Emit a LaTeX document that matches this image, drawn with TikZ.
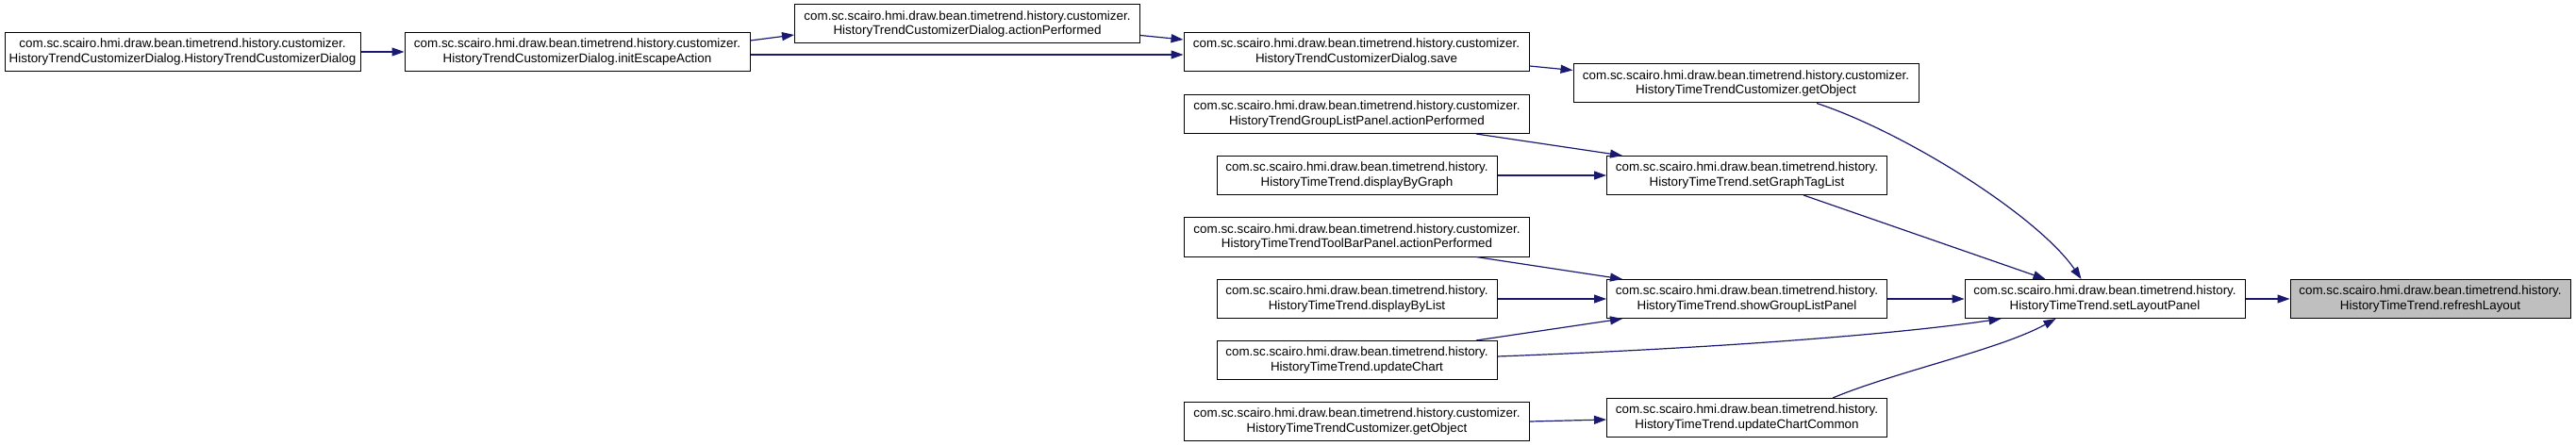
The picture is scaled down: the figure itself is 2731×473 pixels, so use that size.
\documentclass[tikz,border=0pt]{standalone}
\usepackage{fontspec}
\setmainfont{Liberation Sans}
\usetikzlibrary{arrows.meta}
\definecolor{edgecol}{HTML}{191970}
\definecolor{hilite}{HTML}{BFBFBF}
\begin{document}
\begin{tikzpicture}[x=1pt,y=-1pt,
  fn/.style={draw=black,line width=1pt,fill=white,align=center,inner sep=0pt,
    minimum height=41pt,font=\fontsize{13.4}{15.2}\selectfont},
  wide/.style={fn,minimum width=366pt},
  narrow/.style={fn,minimum width=297pt},
  call/.style={draw=edgecol,line width=1.2pt,-{Triangle[length=13pt,width=9pt]},fill=none},
]
\useasboundingbox (0,0) rectangle (2731,473);
\node[fn,minimum width=377pt] (A) at (193.5,55) {com.sc.scairo.hmi.draw.bean.timetrend.history.customizer.\\HistoryTrendCustomizerDialog.HistoryTrendCustomizerDialog};
\node[wide] (B) at (612,55) {com.sc.scairo.hmi.draw.bean.timetrend.history.customizer.\\HistoryTrendCustomizerDialog.initEscapeAction};
\node[wide] (C) at (1025.5,25.5) {com.sc.scairo.hmi.draw.bean.timetrend.history.customizer.\\HistoryTrendCustomizerDialog.actionPerformed};
\node[wide] (D) at (1438,55) {com.sc.scairo.hmi.draw.bean.timetrend.history.customizer.\\HistoryTrendCustomizerDialog.save};
\node[wide] (E) at (1851,88.5) {com.sc.scairo.hmi.draw.bean.timetrend.history.customizer.\\HistoryTimeTrendCustomizer.getObject};
\node[wide] (F) at (1438.5,121) {com.sc.scairo.hmi.draw.bean.timetrend.history.customizer.\\HistoryTrendGroupListPanel.actionPerformed};
\node[narrow] (G) at (1438.5,186) {com.sc.scairo.hmi.draw.bean.timetrend.history.\\HistoryTimeTrend.displayByGraph};
\node[narrow] (H) at (1852,186) {com.sc.scairo.hmi.draw.bean.timetrend.history.\\HistoryTimeTrend.setGraphTagList};
\node[wide] (I) at (1438.5,251.5) {com.sc.scairo.hmi.draw.bean.timetrend.history.customizer.\\HistoryTimeTrendToolBarPanel.actionPerformed};
\node[narrow] (J) at (1438.5,317) {com.sc.scairo.hmi.draw.bean.timetrend.history.\\HistoryTimeTrend.displayByList};
\node[narrow] (K) at (1852,317) {com.sc.scairo.hmi.draw.bean.timetrend.history.\\HistoryTimeTrend.showGroupListPanel};
\node[narrow] (L) at (1438.5,382) {com.sc.scairo.hmi.draw.bean.timetrend.history.\\HistoryTimeTrend.updateChart};
\node[wide] (M) at (1438.5,447) {com.sc.scairo.hmi.draw.bean.timetrend.history.customizer.\\HistoryTimeTrendCustomizer.getObject};
\node[narrow] (N) at (1852,443) {com.sc.scairo.hmi.draw.bean.timetrend.history.\\HistoryTimeTrend.updateChartCommon};
\node[narrow] (O) at (2231.5,317) {com.sc.scairo.hmi.draw.bean.timetrend.history.\\HistoryTimeTrend.setLayoutPanel};
\node[narrow,fill=hilite] (P) at (2576.5,317) {com.sc.scairo.hmi.draw.bean.timetrend.history.\\HistoryTimeTrend.refreshLayout};

\draw[call] (A.east) -- (B.west);
\draw[call] ([yshift=12pt]B.east) -- ([yshift=-11.5pt]C.west);
\draw[call] ([yshift=-3pt]B.east) -- ([yshift=-3pt]D.west);
\draw[call] ([yshift=-12pt]C.east) -- ([yshift=13pt]D.west);
\draw[call] ([yshift=-15pt]D.east) -- ([yshift=14pt]E.west);
\draw[call] ([xshift=75pt]E.south) .. controls +(94,31) and +(-46,-67) .. ([xshift=-25pt]O.north);
\draw[call] ([xshift=126.5pt]F.south) -- ([xshift=-132pt]H.north);
\draw[call] (G.east) -- (H.west);
\draw[call] ([xshift=60pt]H.south) -- ([xshift=-63pt]O.north);
\draw[call] ([xshift=126.5pt]I.south) -- ([xshift=-132pt]K.north);
\draw[call] (J.east) -- (K.west);
\draw[call] ([xshift=126.5pt]L.north) -- ([xshift=-132pt]K.south);
\draw[call] (K.east) -- (O.west);
\draw[call] ([yshift=4pt]L.east) .. controls +(213,-8) and +(-121,18) .. ([xshift=-110pt]O.south);
\draw[call] (M.east) -- ([yshift=-2pt]N.west);
\draw[call] ([xshift=91pt]N.north) .. controls +(67,-28) and +(-60,33) .. ([xshift=-52pt]O.south);
\draw[call] (O.east) -- (P.west);
\end{tikzpicture}
\end{document}
